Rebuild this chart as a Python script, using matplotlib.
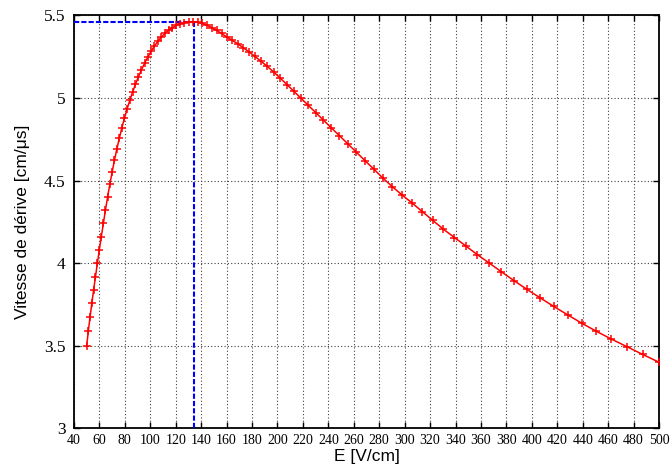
import matplotlib
matplotlib.use("Agg")
import matplotlib.pyplot as plt
from matplotlib.ticker import MultipleLocator, FuncFormatter

# drift velocity vs field
E_field = [50.0, 51.31, 52.66, 54.04, 55.46, 56.91, 58.40, 59.93, 61.50, 63.11,
           64.77, 66.46, 68.20, 69.99, 71.82, 73.70, 75.63, 77.61, 79.65, 81.73,
           83.88, 86.08, 88.34, 90.65, 93.03, 95.47, 97.97, 100.54, 103.17, 105.88,
           108.65, 111.50, 114.42, 117.42, 120.50, 123.66, 126.90, 130.23, 133.64, 137.14,
           140.73, 144.42, 148.21, 152.09, 156.08, 160.17, 164.37, 168.67, 173.09, 177.63,
           182.29, 187.07, 191.97, 197.00, 202.16, 207.46, 212.90, 218.48, 224.21, 230.08,
           236.11, 242.30, 248.65, 255.17, 261.86, 268.72, 275.76, 282.99, 290.40, 298.01,
           305.83, 313.84, 322.07, 330.51, 339.17, 348.06, 357.18, 366.54, 376.14, 386.00,
           396.12, 406.5, 417.2, 428.1, 439.3, 450.8, 462.6, 474.8, 487.2, 500.0]

velocity = [3.500, 3.589, 3.675, 3.757, 3.838, 3.918, 3.998, 4.080, 4.160, 4.240,
            4.322, 4.401, 4.477, 4.551, 4.622, 4.690, 4.755, 4.817, 4.876, 4.932,
            4.985, 5.035, 5.082, 5.127, 5.169, 5.209, 5.246, 5.281, 5.313, 5.342,
            5.368, 5.391, 5.410, 5.426, 5.439, 5.449, 5.456, 5.460, 5.461, 5.458,
            5.451, 5.440, 5.426, 5.409, 5.390, 5.369, 5.349, 5.328, 5.304, 5.279,
            5.251, 5.222, 5.191, 5.157, 5.120, 5.081, 5.040, 4.998, 4.955, 4.911,
            4.866, 4.819, 4.772, 4.723, 4.673, 4.621, 4.569, 4.514, 4.462, 4.412,
            4.364, 4.312, 4.259, 4.205, 4.155, 4.104, 4.051, 4.000, 3.947, 3.894,
            3.841, 3.790, 3.738, 3.687, 3.636, 3.587, 3.540, 3.494, 3.447, 3.400]

peak_E = 134.6
peak_v = 5.461

x_min, x_max = 40, 500
y_min, y_max = 3, 5.5

fig = plt.figure(figsize=(6.7, 4.74), dpi=100)
ax = fig.add_axes([0.1104, 0.0964, 0.8732, 0.8713])

ax.plot([x_min, peak_E], [peak_v, peak_v], color="#0000ff", lw=1.5,
        dashes=(2.5, 1.0), zorder=3)
ax.plot([peak_E, peak_E], [y_min, peak_v], color="#0000ff", lw=1.5,
        dashes=(2.5, 1.0), zorder=3)
ax.plot(E_field, velocity, color="#ff0000", lw=1.1, marker="+",
        markersize=6, markeredgewidth=1.1, zorder=4)

ax.set_xlim(x_min, x_max)
ax.set_ylim(y_min, y_max)
ax.xaxis.set_major_locator(MultipleLocator(20))
ax.yaxis.set_major_locator(MultipleLocator(0.5))
ax.yaxis.set_major_formatter(FuncFormatter(lambda v, p: "%g" % v))

ax.grid(True, color="0.25", linestyle=(0, (1, 2)), linewidth=0.8)
ax.tick_params(direction="in", length=4, width=1, top=True, right=True)
ax.tick_params(axis="x", pad=4)
ax.tick_params(axis="y", pad=6)
for lab in ax.get_xticklabels():
    lab.set_family("Liberation Serif")
    lab.set_fontsize(10)
for lab in ax.get_yticklabels():
    lab.set_family("Liberation Serif")
    lab.set_fontsize(12.5)
for sp in ax.spines.values():
    sp.set_linewidth(1.3)

ax.set_xlabel("E [V/cm]", family="Liberation Sans", fontsize=12.5, labelpad=1.5)
ax.set_ylabel("Vitesse de dérive [cm/μs]", family="Liberation Sans",
              fontsize=12.5, labelpad=10)

fig.savefig("out.png", dpi=100)
